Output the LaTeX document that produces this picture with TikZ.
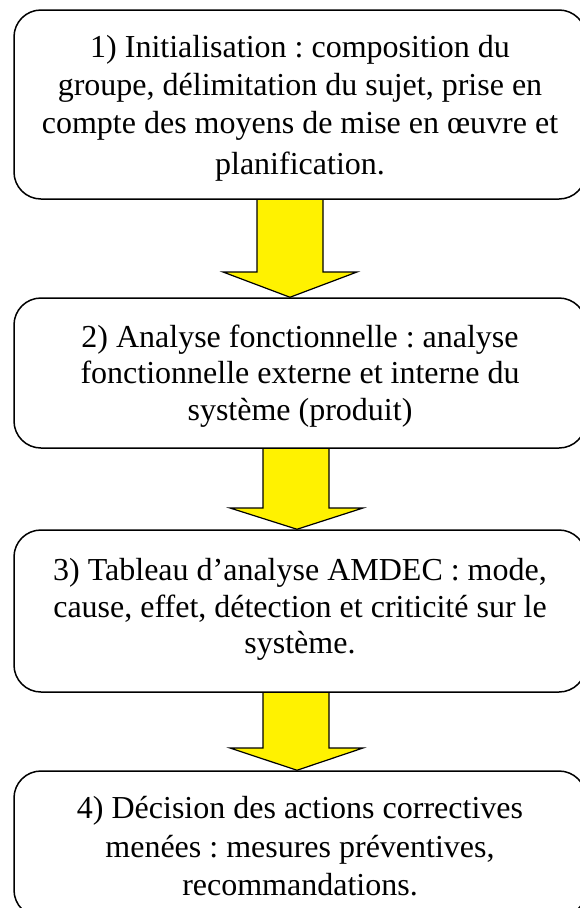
\documentclass[tikz,border=0pt]{standalone}
\usepackage{fontspec}
\setmainfont{Liberation Serif}
\usetikzlibrary{backgrounds}
\frenchspacing
\begin{document}
\begin{tikzpicture}[x=1pt,y=-1pt,
  stepbox/.style={draw=black, line width=1.5pt, rounded corners=27pt, inner sep=0pt},
  txtline/.style={font=\fontsize{32}{38}\selectfont, inner sep=0pt, anchor=base},
  arrowfill/.style={fill=yellow},
  arrowline/.style={draw=black, line width=1.2pt, line join=miter}]
\useasboundingbox (0,0) rectangle (579,908);

% boxes
\node[stepbox, minimum width=572pt, minimum height=189pt] (b1) at (300,104.5) {};
\node[stepbox, minimum width=572pt, minimum height=150pt] (b2) at (300,373) {};
\node[stepbox, minimum width=572pt, minimum height=162pt] (b3) at (300,611) {};
\node[stepbox, minimum width=572pt, minimum height=146pt] (b4) at (300,844) {};

% texts
\node[txtline] (t11) at (300,57) {1) Initialisation : composition du};
\node[txtline] (t12) at (300,95) {groupe, délimitation du sujet, prise en};
\node[txtline] (t13) at (300,133) {compte des moyens de mise en œuvre et};
\node[txtline] (t14) at (300,174) {planification.};

\node[txtline] (t21) at (300,347) {2) Analyse fonctionnelle : analyse};
\node[txtline] (t22) at (300,383) {fonctionnelle externe et interne du};
\node[txtline] (t23) at (300,420) {système (produit)};

\node[txtline] (t31) at (300,580) {3) Tableau d’analyse AMDEC : mode,};
\node[txtline] (t32) at (300,617) {cause, effet, détection et criticité sur le};
\node[txtline] (t33) at (300,653) {système.};

\node[txtline] (t41) at (300,818) {4) Décision des actions correctives};
\node[txtline] (t42) at (300,857) {menées : mesures préventives,};
\node[txtline] (t43) at (300,895) {recommandations.};

% block arrows
\begin{scope}[on background layer]
\fill[arrowfill] (257,0 |- b1.south) -- (257,272) -- (223,272) -- (290,0 |- b2.north) -- (357,272) -- (323,272) -- (323,0 |- b1.south) -- cycle;
\draw[arrowline] (257,0 |- b1.south) -- (257,272) -- (223,272) -- (290,0 |- b2.north) -- (357,272) -- (323,272) -- (323,0 |- b1.south);

\fill[arrowfill] (263,0 |- b2.south) -- (263,508) -- (230,508) -- (297,0 |- b3.north) -- (363,508) -- (329,508) -- (329,0 |- b2.south) -- cycle;
\draw[arrowline] (263,0 |- b2.south) -- (263,508) -- (230,508) -- (297,0 |- b3.north) -- (363,508) -- (329,508) -- (329,0 |- b2.south);

\fill[arrowfill] (263,0 |- b3.south) -- (263,748) -- (230,748) -- (297,0 |- b4.north) -- (363,748) -- (329,748) -- (329,0 |- b3.south) -- cycle;
\draw[arrowline] (263,0 |- b3.south) -- (263,748) -- (230,748) -- (297,0 |- b4.north) -- (363,748) -- (329,748) -- (329,0 |- b3.south);
\end{scope}
\end{tikzpicture}
\end{document}
